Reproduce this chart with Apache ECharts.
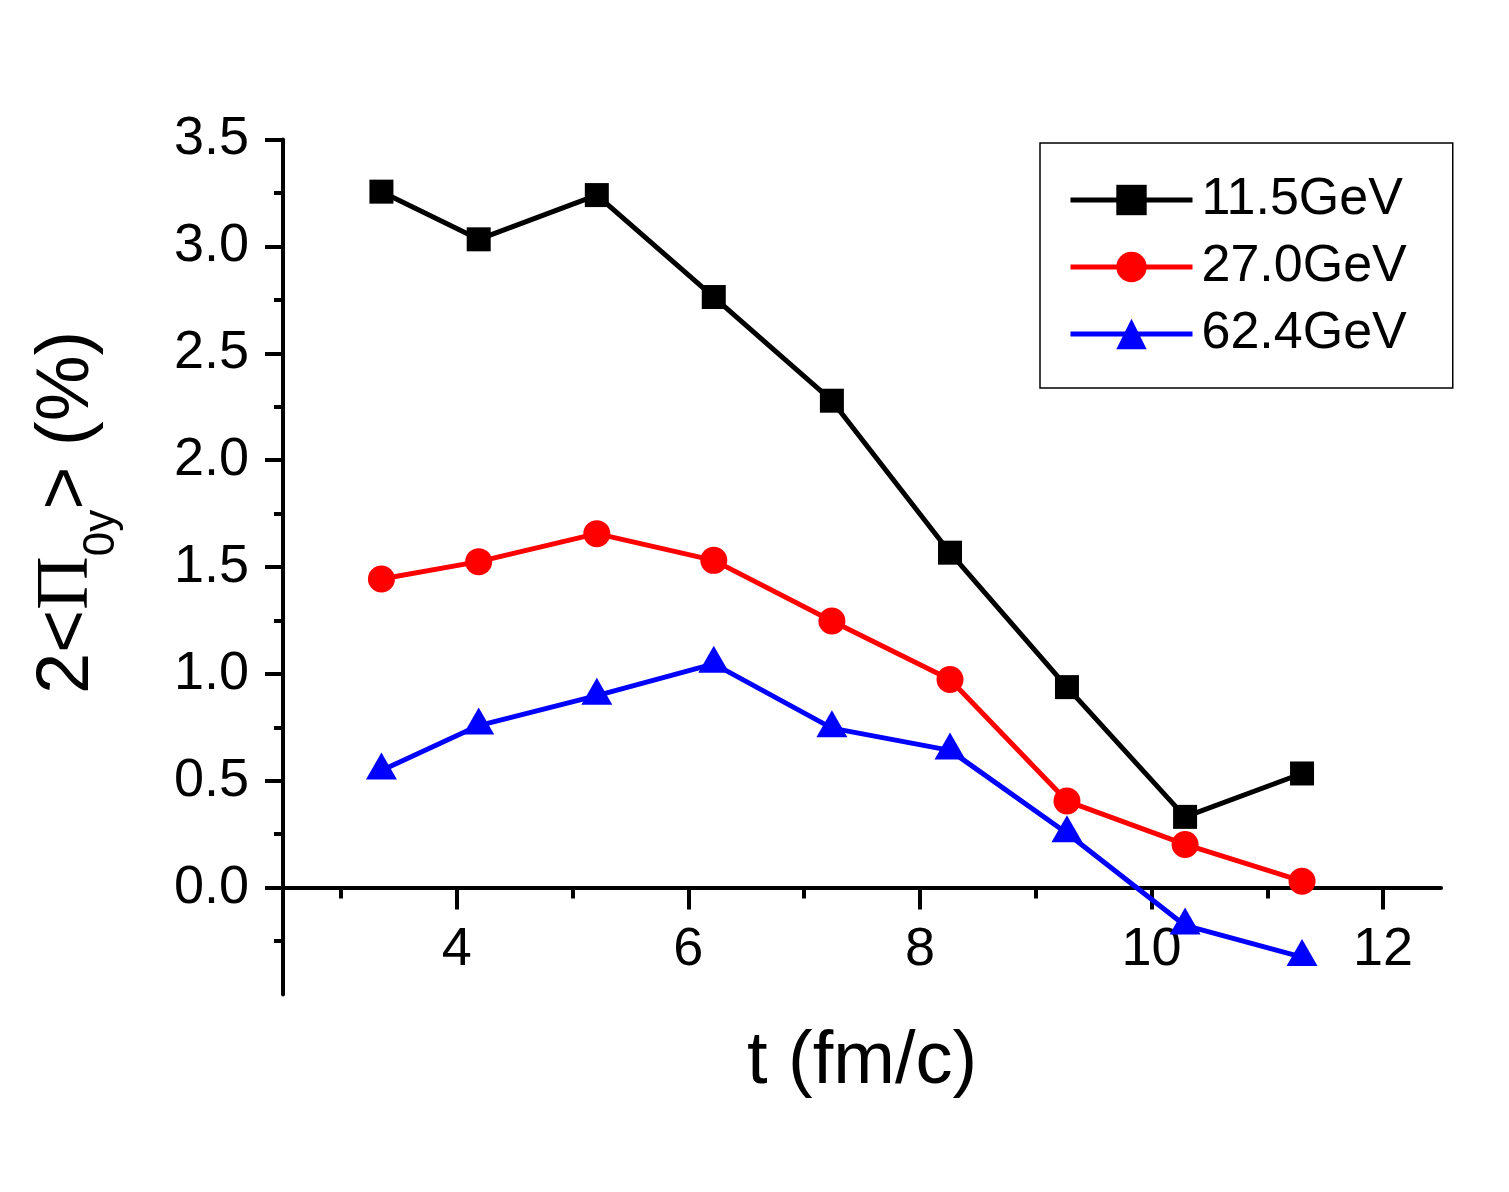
<!DOCTYPE html>
<html>
<head>
<meta charset="utf-8">
<script src="https://cdn.jsdelivr.net/npm/echarts@6/dist/echarts.min.js"></script>
<style>
  html, body { margin: 0; padding: 0; background: #fff; }
  #chart { width: 1509px; height: 1192px; }
</style>
</head>
<body>
<div id="chart"></div>
<script>
// values
var tValues = [3.35, 4.19, 5.21, 6.22, 7.24, 8.26, 9.27, 10.29, 11.30];
var gev115 = [3.256, 3.033, 3.240, 2.763, 2.278, 1.567, 0.938, 0.331, 0.534];
var gev270 = [1.444, 1.525, 1.656, 1.531, 1.247, 0.974, 0.405, 0.202, 0.030];
var gev624 = [0.548, 0.758, 0.898, 1.047, 0.746, 0.642, 0.254, -0.177, -0.325];
var seriesNames = ['11.5GeV', '27.0GeV', '62.4GeV'];
var xTicks = [4, 6, 8, 10, 12];
var yTicks = [0, 0.5, 1, 1.5, 2, 2.5, 3, 3.5];

function pairs(ys) {
  return tValues.map(function (t, i) { return [t, ys[i]]; });
}

var font = 'Liberation Sans, Arial, sans-serif';
var axisColor = '#000';
var axisW = 4;
var lineW = 5;
var chart = echarts.init(document.getElementById('chart'));

chart.setOption({
  animation: false,
  backgroundColor: '#fff',
  grid: [
    // plot area (y from -0.5 to 3.5)
    { left: 283, right: 68, top: 139.5, bottom: 197.5, outerBoundsMode: 'none', containLabel: false },
    // same box cut at y = 0, only to carry the x axis on the zero line
    { left: 283, right: 68, top: 139.5, bottom: 304.4, outerBoundsMode: 'none', containLabel: false }
  ],
  legend: {
    orient: 'vertical',
    left: 1040,
    top: 143,
    padding: [31, 46, 28, 28],
    itemWidth: 122,
    itemHeight: 38,
    itemGap: 15,
    borderColor: '#000',
    borderWidth: 1.5,
    borderRadius: 0,
    backgroundColor: '#fff',
    lineStyle: { width: lineW },
    textStyle: { fontSize: 52, color: '#000', fontFamily: font, padding: [0, 0, 0, 4] },
    data: seriesNames
  },
  xAxis: [
    { type: 'value', gridIndex: 0, min: 2.5, max: 12.5, show: false },
    {
      type: 'value',
      gridIndex: 1,
      min: 2.5,
      max: 12.5,
      name: 't (fm/c)',
      nameLocation: 'middle',
      nameGap: 138,
      nameTextStyle: { fontSize: 74, color: '#000', fontFamily: font },
      axisLine: { onZero: false, lineStyle: { color: axisColor, width: axisW } },
      axisTick: { show: true, inside: false, length: 22, customValues: xTicks, lineStyle: { color: axisColor, width: axisW } },
      minorTick: { show: true, splitNumber: 2, length: 11, lineStyle: { color: axisColor, width: axisW } },
      axisLabel: { customValues: xTicks, fontSize: 54, color: '#000', fontFamily: font, margin: 36 },
      splitLine: { show: false }
    }
  ],
  yAxis: [
    {
      type: 'value',
      gridIndex: 0,
      min: -0.5,
      max: 3.5,
      interval: 0.5,
      name: '{a|2<}{p|Π}{s|0y}{a|> (%)}',
      nameLocation: 'middle',
      nameRotate: 90,
      nameGap: 178,
      nameTextStyle: {
        color: '#000',
        padding: [0, 0, 0, 109],
        rich: {
          a: { fontSize: 74, fontFamily: font, color: '#000' },
          p: { fontSize: 74, fontFamily: 'Liberation Serif, Times New Roman, serif', color: '#000' },
          s: { fontSize: 44, lineHeight: 44, fontFamily: font, color: '#000', padding: [68, 0, 0, 0] }
        }
      },
      axisLine: { show: true, onZero: false, lineStyle: { color: axisColor, width: axisW } },
      axisTick: { show: true, inside: false, length: 18, customValues: yTicks, lineStyle: { color: axisColor, width: axisW } },
      minorTick: { show: true, splitNumber: 2, length: 9, lineStyle: { color: axisColor, width: axisW } },
      axisLabel: {
        customValues: yTicks,
        fontSize: 54,
        color: '#000',
        fontFamily: font,
        margin: 34,
        formatter: function (v) { return v.toFixed(1); }
      },
      splitLine: { show: false }
    },
    { type: 'value', gridIndex: 1, min: 0, max: 3.5, show: false }
  ],
  series: [
    {
      name: seriesNames[0],
      type: 'line',
      data: pairs(gev115),
      symbol: 'rect',
      symbolSize: 24,
      itemStyle: { color: '#000' },
      lineStyle: { color: '#000', width: lineW }
    },
    {
      name: seriesNames[1],
      type: 'line',
      data: pairs(gev270),
      symbol: 'circle',
      symbolSize: 27,
      itemStyle: { color: '#ff0000' },
      lineStyle: { color: '#ff0000', width: lineW }
    },
    {
      name: seriesNames[2],
      type: 'line',
      data: pairs(gev624),
      symbol: 'triangle',
      symbolSize: [31, 27],
      symbolOffset: [0, -4.5],
      itemStyle: { color: '#0000ff' },
      lineStyle: { color: '#0000ff', width: lineW }
    }
  ]
});
</script>
</body>
</html>
